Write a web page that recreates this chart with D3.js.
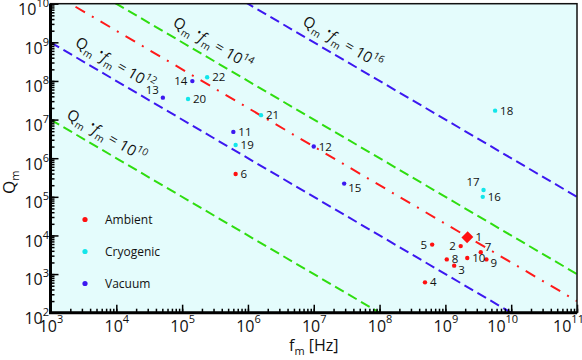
<!DOCTYPE html>
<html>
<head>
<meta charset="utf-8">
<script src="https://cdn.jsdelivr.net/npm/d3@7"></script>
<style>
body { margin: 0; background: #fff; }
svg text { font-family: "Open Sans", sans-serif; fill: #111; }
</style>
</head>
<body>
<script>
const w = 582;
const h = 360;
const m = {l: 50.5, t: 3.7, r: 5, b: 47.3};

// resonators: id, frequency f_m [Hz], quality factor Q_m, environment
const ids   = [1, 2, 3, 4, 5, 6, 7, 8, 9, 10, 11, 12, 13, 14, 15, 16, 17, 18, 19, 20, 21, 22];
const freqs = [2.16e9, 1.71e9, 1.36e9, 4.9e8, 6.3e8, 6.5e5, 3.45e9, 1.05e9, 4.2e9, 2.15e9,
               6.0e5, 1.0e7, 5.1e4, 1.43e5, 2.9e7, 3.7e9, 3.8e9, 5.7e9, 6.5e5, 1.23e5, 1.58e6, 2.4e5];
const quals = [9.0e3, 5.3e3, 1.65e3, 6.1e2, 5.8e3, 3.9e5, 3.7e3, 2.4e3, 2.4e3, 2.6e3,
               4.8e6, 2.0e6, 3.7e7, 9.9e7, 2.2e5, 1.0e5, 1.5e5, 1.7e7, 2.2e6, 3.4e7, 1.3e7, 1.25e8];
const envs  = ['Ambient', 'Ambient', 'Ambient', 'Ambient', 'Ambient', 'Ambient', 'Ambient', 'Ambient', 'Ambient', 'Ambient',
               'Vacuum', 'Vacuum', 'Vacuum', 'Vacuum', 'Vacuum', 'Cryogenic', 'Cryogenic', 'Cryogenic', 'Cryogenic', 'Cryogenic', 'Cryogenic', 'Cryogenic'];

const categories = ['Ambient', 'Cryogenic', 'Vacuum'];
const xExps = [3, 4, 5, 6, 7, 8, 9, 10, 11];
const yExps = [2, 3, 4, 5, 6, 7, 8, 9, 10];

// Q*f product lines and where their labels sit (frequency)
const qfProducts = [1e10, 1e12, 1e14, 1e16];
const qfLabelFreq = [1.7e3, 2.3e3, 7e4, 6.6e6];
const qfLabelExp = ['10', '12', '14', '16'];
const redProduct = 2e13;

// label placement around each dot
const labelSide = {2: 'l', 3: 'dr', 5: 'l', 7: 'ur', 9: 'dr', 13: 'ul', 14: 'l', 15: 'dr', 17: 'ul', 1: 'd1'};

const colors = {Ambient: '#ff1010', Cryogenic: '#12e6ea', Vacuum: '#3c18f0'};
const green = '#2fdd10';
const blue = '#3c18f0';

const x = d3.scaleLog().domain([1e3, 1e11]).range([m.l, w - m.r]);
const y = d3.scaleLog().domain([1e2, 1e10]).range([h - m.b, m.t]);

const svg = d3.select('body').append('svg')
	.attr('width', w)
	.attr('height', h);

svg.append('rect')
	.attr('x', m.l).attr('y', m.t)
	.attr('width', x.range()[1] - m.l)
	.attr('height', y.range()[0] - m.t)
	.attr('fill', '#e4fcfc');

svg.append('clipPath').attr('id', 'clip')
	.append('rect')
	.attr('x', m.l).attr('y', m.t)
	.attr('width', x.range()[1] - m.l)
	.attr('height', y.range()[0] - m.t);

const plot = svg.append('g').attr('clip-path', 'url(#clip)');

const fLine = d3.line().x(d => x(d[0])).y(d => y(d[1]));
const span = [1e3, 1e11];

qfProducts.forEach((c, i) => {
	plot.append('path')
		.attr('d', fLine(span.map(f => [f, c / f])))
		.attr('fill', 'none')
		.attr('stroke', i % 2 ? blue : green)
		.attr('stroke-width', 2)
		.attr('stroke-dasharray', '10,5');
});

plot.append('path')
	.attr('d', fLine(span.map(f => [f, redProduct / f])))
	.attr('fill', 'none')
	.attr('stroke', '#ff1a1a')
	.attr('stroke-width', 2)
	.attr('stroke-dasharray', '11,8,2,8');

// angle of the Q*f lines on screen
const angle = Math.atan2(y(1e3) - y(1e4), x(1e4) - x(1e3)) * 180 / Math.PI;

qfProducts.forEach((c, i) => {
	const px = x(qfLabelFreq[i]);
	const py = y(c / qfLabelFreq[i]) - 11;
	const t = svg.append('text')
		.attr('transform', `translate(${px},${py}) rotate(${angle})`)
		.attr('font-size', 15);
	t.append('tspan').text('Q');
	t.append('tspan').attr('font-size', 10).attr('dy', 4).text('m');
	t.append('tspan').attr('font-size', 11).attr('dy', -8).attr('dx', 4).text('•');
	t.append('tspan').attr('font-style', 'italic').attr('dy', 4).attr('dx', 1).text('f');
	t.append('tspan').attr('font-size', 10).attr('dy', 4).text('m');
	t.append('tspan').attr('dy', -4).text(' = 10');
	t.append('tspan').attr('font-size', 10).attr('dy', -7).text(qfLabelExp[i]);
});

// points
const pts = ids.map((id, i) => ({id, f: freqs[i], q: quals[i], env: envs[i]}));

svg.selectAll('circle.pt')
	.data(pts.filter(d => d.id !== 1))
	.enter()
	.append('circle')
	.attr('class', 'pt')
	.attr('cx', d => x(d.f))
	.attr('cy', d => y(d.q))
	.attr('r', 2.2)
	.attr('fill', d => colors[d.env]);

svg.selectAll('path.pt')
	.data(pts.filter(d => d.id === 1))
	.enter()
	.append('path')
	.attr('class', 'pt')
	.attr('d', d3.symbol(d3.symbolSquare, 64))
	.attr('transform', d => `translate(${x(d.f)},${y(d.q)}) rotate(45) scale(1,1.1)`)
	.attr('fill', colors.Ambient);

const offsets = {
	r: [5, 4, 'start'], l: [-5, 4, 'end'], ur: [4, -1, 'start'], ul: [-4, -4, 'end'],
	dr: [4, 8, 'start'], d1: [8, 4, 'start']
};

svg.selectAll('text.lbl')
	.data(pts)
	.enter()
	.append('text')
	.attr('class', 'lbl')
	.attr('font-size', 11.5)
	.attr('x', d => x(d.f) + offsets[labelSide[d.id] || 'r'][0])
	.attr('y', d => y(d.q) + offsets[labelSide[d.id] || 'r'][1])
	.attr('text-anchor', d => offsets[labelSide[d.id] || 'r'][2])
	.text(d => d.id);

// axes
const bottom = h - m.b;
const xMinor = d3.axisBottom(x).tickValues(x.ticks()).tickSize(-4).tickSizeOuter(0).tickFormat('');
const yMinor = d3.axisLeft(y).tickValues(y.ticks()).tickSize(-4).tickSizeOuter(0).tickFormat('');
const xMajor = d3.axisBottom(x).tickValues(xExps.map(e => 10 ** e)).tickSize(-8).tickSizeOuter(0).tickPadding(8);
const yMajor = d3.axisLeft(y).tickValues(yExps.map(e => 10 ** e)).tickSize(-8).tickSizeOuter(0).tickPadding(1.5);

const axes = [
	svg.append('g').attr('transform', `translate(0,${bottom})`).call(xMinor),
	svg.append('g').attr('transform', `translate(0,${bottom})`).call(xMajor),
	svg.append('g').attr('transform', `translate(${m.l},0)`).call(yMinor),
	svg.append('g').attr('transform', `translate(${m.l},0)`).call(yMajor)
];
axes.forEach(g => {
	g.select('.domain').remove();
	g.selectAll('.tick line').attr('stroke', '#000').attr('stroke-width', 1.5);
});

function powLabels(g, exps, isX) {
	g.selectAll('.tick text')
		.attr('font-size', 16)
		.attr('fill', '#111')
		.attr('dy', isX ? '0.71em' : '0.68em')
		.attr('dx', (d, i) => isX ? (exps[i] > 9 ? -9 : 0) : 0)
		.text('10')
		.each(function (d, i) {
			d3.select(this).append('tspan')
				.attr('font-size', 11)
				.attr('dy', isX ? -9 : -8)
				.text(exps[i]);
		});
}
powLabels(axes[1], xExps, true);
powLabels(axes[3], yExps, false);

// frame
svg.append('rect')
	.attr('x', m.l).attr('y', m.t)
	.attr('width', x.range()[1] - m.l)
	.attr('height', bottom - m.t)
	.attr('fill', 'none')
	.attr('stroke', '#111')
	.attr('stroke-width', 1.5);
svg.append('path')
	.attr('d', `M${m.l},${m.t}V${bottom}H${x.range()[1]}`)
	.attr('fill', 'none')
	.attr('stroke', '#000')
	.attr('stroke-width', 3);

// axis titles
const xt = svg.append('text')
	.attr('x', (m.l + x.range()[1]) / 2)
	.attr('y', 351)
	.attr('text-anchor', 'middle')
	.attr('font-size', 16);
xt.append('tspan').text('f');
xt.append('tspan').attr('font-size', 11).attr('dy', 4).text('m');
xt.append('tspan').attr('dy', -4).text(' [Hz]');

const yt = svg.append('text')
	.attr('transform', `translate(15,${(m.t + bottom) / 2 + 24}) rotate(-90)`)
	.attr('text-anchor', 'middle')
	.attr('font-size', 17);
yt.append('tspan').text('Q');
yt.append('tspan').attr('font-size', 11).attr('dy', 4).text('m');

// legend
const legend = svg.append('g');
categories.forEach((c, i) => {
	const ly = 219.5 + i * 32;
	legend.append('circle').attr('cx', 85).attr('cy', ly).attr('r', 2.6).attr('fill', colors[c]);
	legend.append('text').attr('x', 105).attr('y', ly + 4.5).attr('font-size', 12).text(c);
});
</script>
</body>
</html>
